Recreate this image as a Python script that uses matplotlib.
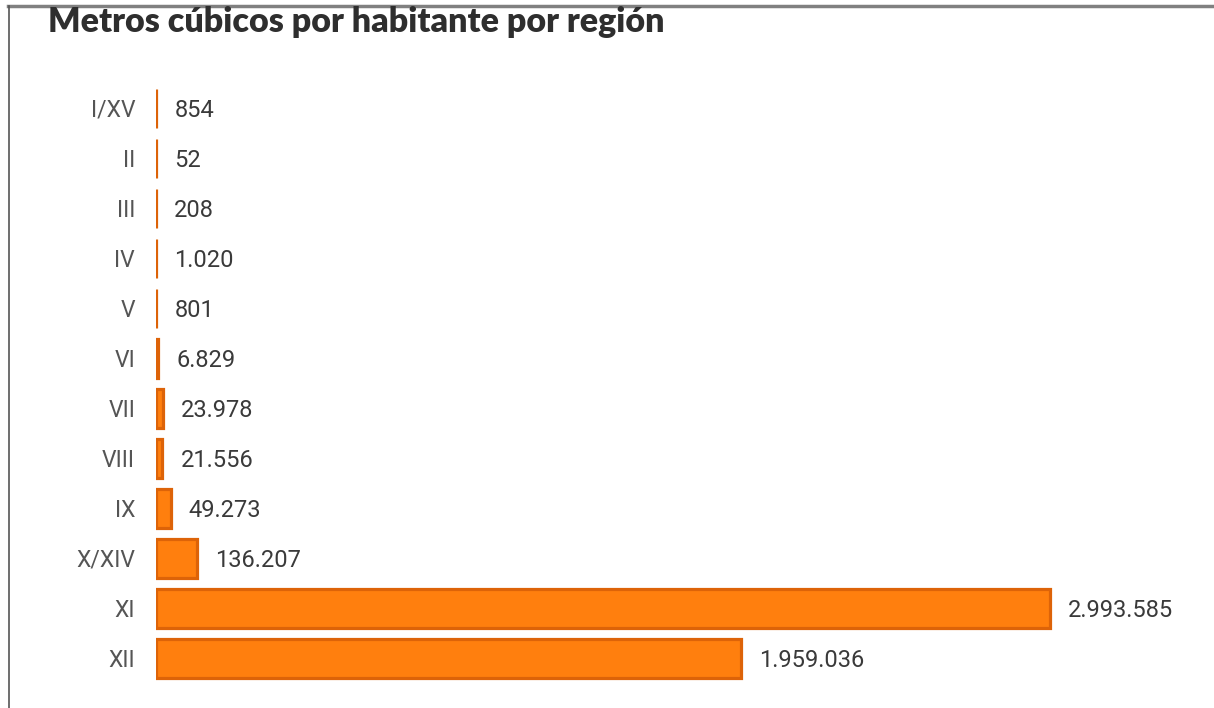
import matplotlib.pyplot as plt
from matplotlib.lines import Line2D

# Datos
regiones = ["I/XV", "II", "III", "IV", "V", "VI", "VII", "VIII", "IX", "X/XIV", "XI", "XII"]
valores = [854, 52, 208, 1020, 801, 6829, 23978, 21556, 49273, 136207, 2993585, 1959036]
etiquetas = ["854", "52", "208", "1.020", "801", "6.829", "23.978", "21.556",
             "49.273", "136.207", "2.993.585", "1.959.036"]

W, H = 1214, 708
fig = plt.figure(figsize=(W / 100, H / 100), dpi=100)

# Marco: línea superior y lateral izquierda
fig.add_artist(Line2D([8 / W, 1], [1 - 5.5 / H, 1 - 5.5 / H], color="#808080", lw=2.5,
                      transform=fig.transFigure))
fig.add_artist(Line2D([8.5 / W, 8.5 / W], [0, 1 - 5.5 / H], color="#555555", lw=1.2,
                      transform=fig.transFigure))

fig.text(48 / W, 1 - 22 / H, "Metros cúbicos por habitante por región",
         fontsize=24.5, fontweight="heavy", family="Lato", color="#2e2e2e", va="center")

ax = fig.add_axes([156 / W, 1 - 683 / H, (1180 - 156) / W, 600 / H])
xmax = max(valores) * (1180 - 156) / 894
ax.set_xlim(0, xmax)
ax.set_ylim(len(regiones) - 0.5, -0.5)

y = range(len(regiones))
ax.barh(y, valores, height=0.78, color="#FF7F0E", edgecolor="#DD6308", linewidth=2.3)

for i, (v, t) in enumerate(zip(valores, etiquetas)):
    ax.annotate(t, (v, i), xytext=(13, 0), textcoords="offset points",
                va="center_baseline", ha="left", fontsize=17, family="Roboto",
                color="#3a3a3a")

ax.set_yticks(list(y))
ax.set_yticklabels(regiones, fontsize=16.5, family="Roboto", color="#555555",
                   va="center_baseline")
ax.tick_params(axis="y", length=0, pad=15)
ax.set_xticks([])
for s in ax.spines.values():
    s.set_visible(False)

fig.savefig("out.png", dpi=100)
